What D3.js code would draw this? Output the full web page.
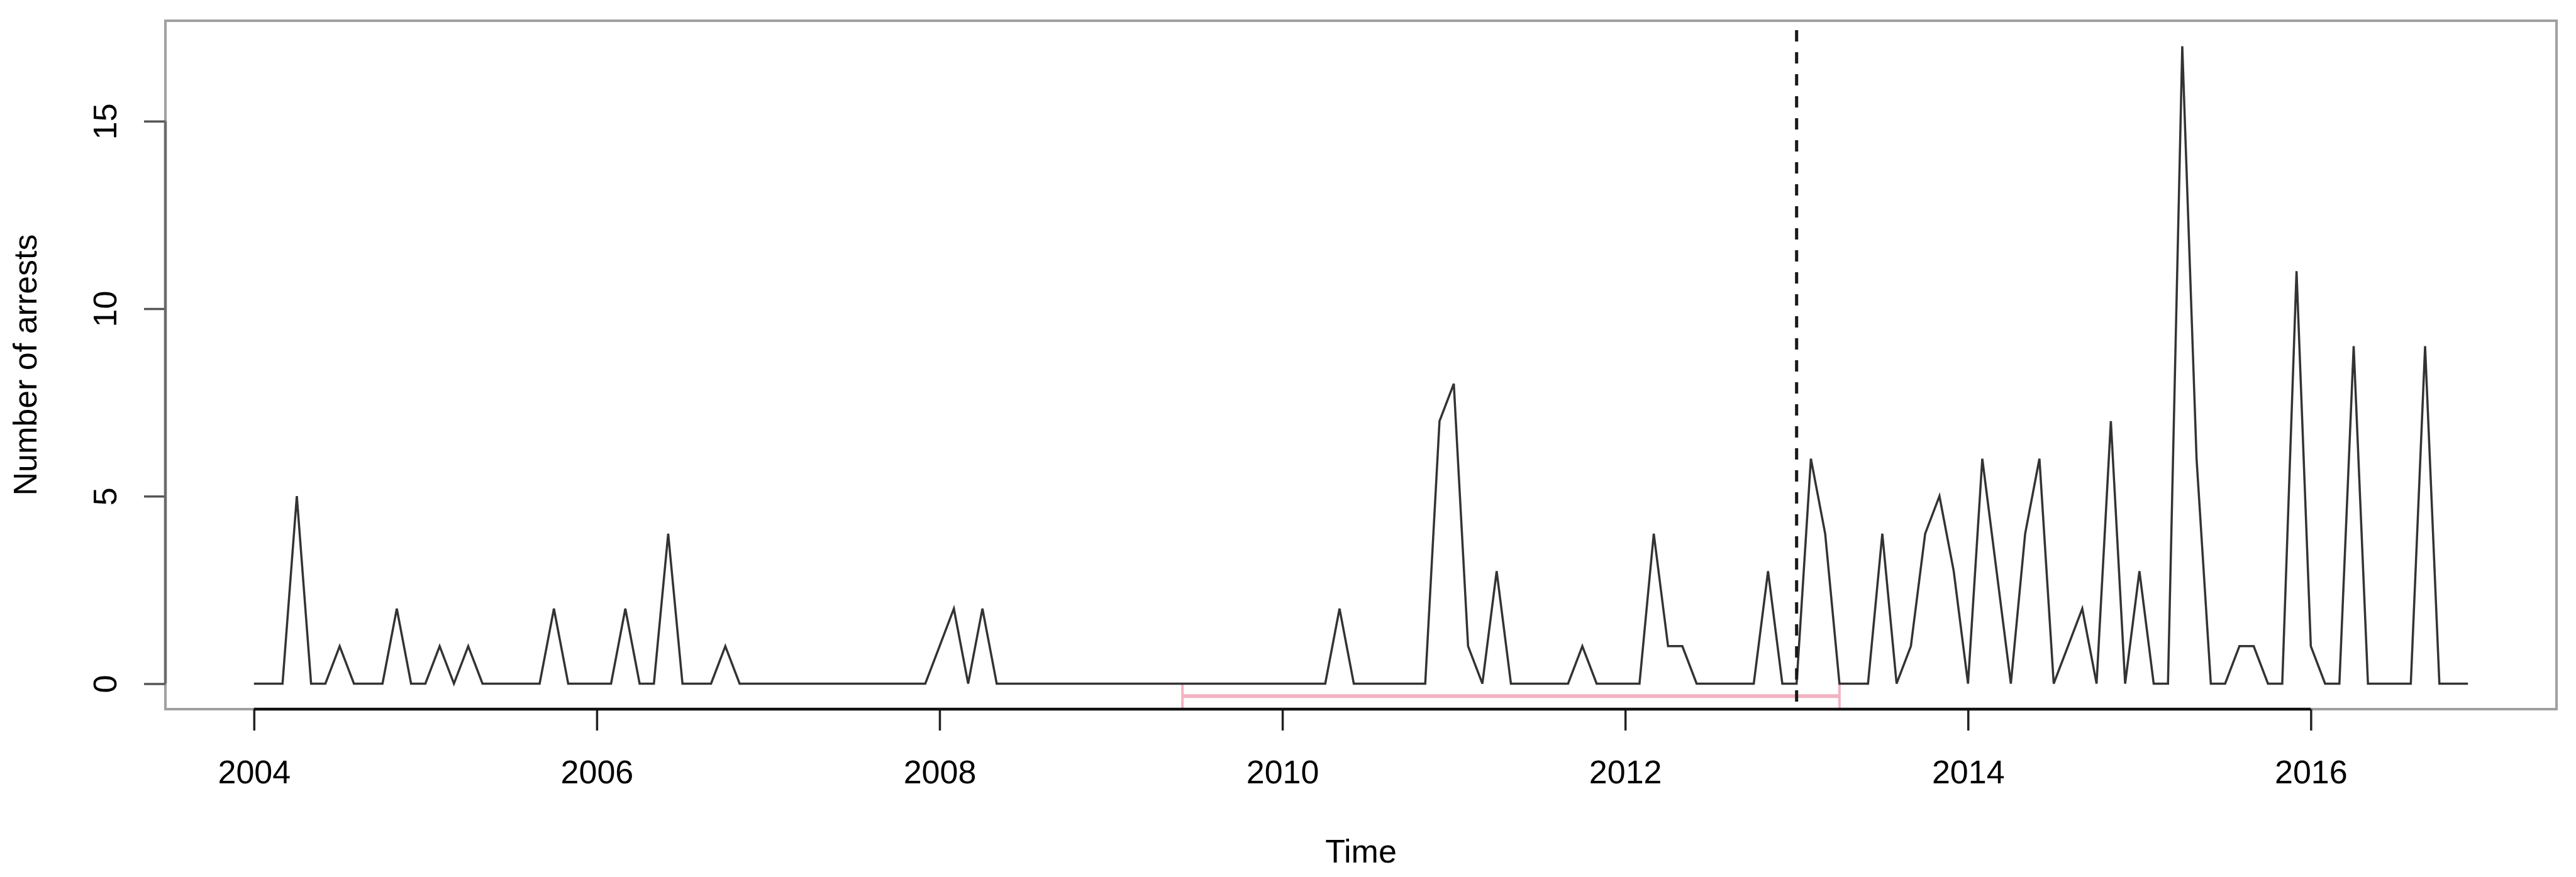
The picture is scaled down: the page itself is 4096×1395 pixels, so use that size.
<!DOCTYPE html>
<html>
<head>
<meta charset="utf-8">
<script src="https://cdn.jsdelivr.net/npm/d3@7"></script>
<style>
  html, body { margin: 0; padding: 0; background: #fff; }
  svg { display: block; }
  text { font-family: "Liberation Sans", Arial, sans-serif; fill: #000; }
</style>
</head>
<body>
<svg id="chart" width="4096" height="1395"></svg>
<script>
// ---- data ----
const startYear = 2004;        // first observation: Jan 2004, monthly series
const monthsPerYear = 12;
const arrests = [
  0,0,0,5,0,0,1,0,0,0,
  2,0,0,1,0,1,0,0,0,0,
  0,2,0,0,0,0,2,0,0,4,
  0,0,0,1,0,0,0,0,0,0,
  0,0,0,0,0,0,0,0,1,2,
  0,2,0,0,0,0,0,0,0,0,
  0,0,0,0,0,0,0,0,0,0,
  0,0,0,0,0,0,2,0,0,0,
  0,0,0,7,8,1,0,3,0,0,
  0,0,0,1,0,0,0,0,4,1,
  1,0,0,0,0,0,3,0,0,6,
  4,0,0,0,4,0,1,4,5,3,
  0,6,3,0,4,6,0,1,2,0,
  7,0,3,0,0,17,6,0,0,1,
  1,0,0,11,1,0,0,9,0,0,
  0,0,9,0,0,0
];
const xTickValues = [2004, 2006, 2008, 2010, 2012, 2014, 2016];
const yTickValues = [0, 5, 10, 15];
const breakYear = [2013];                 // dashed vertical line
const intervalStart = [2009.417];         // pink interval
const intervalEnd = [2013.25];
const intervalLevel = [-0.33];
const xLabel = "Time";
const yLabel = "Number of arrests";

// ---- layout ----
const W = 4096, H = 1395;
const plot = { left: 263, right: 4065, top: 33, bottom: 1128 };
const fontSize = 52;

const series = arrests.map((v, i) => ({ t: startYear + i / monthsPerYear, v }));
const tMin = d3.min(series, d => d.t), tMax = d3.max(series, d => d.t);
const tPad = (tMax - tMin) * 0.04;
const vMax = d3.max(arrests), vMin = 0;
const vPad = (vMax - vMin) * 0.04;

const x = d3.scaleLinear().domain([tMin - tPad, tMax + tPad]).range([plot.left, plot.right]);
const y = d3.scaleLinear().domain([vMin - vPad, vMax + vPad]).range([plot.bottom, plot.top]);

const svg = d3.select("#chart");
svg.append("rect").attr("width", W).attr("height", H).attr("fill", "#fff");

// pink interval
const ig = svg.append("g");
intervalStart.forEach((s, k) => {
  const e = intervalEnd[k], lv = intervalLevel[k];
  ig.append("line")
    .attr("x1", x(s)).attr("x2", x(e)).attr("y1", y(lv)).attr("y2", y(lv))
    .attr("stroke", "#f2b3c2").attr("stroke-width", 6);
  [s, e].forEach(p => {
    ig.append("line")
      .attr("x1", x(p)).attr("x2", x(p))
      .attr("y1", y(lv) - 21).attr("y2", y(lv) + 20)
      .attr("stroke", "#f2b3c2").attr("stroke-width", 4);
  });
});

// data line
const line = d3.line().x(d => x(d.t)).y(d => y(d.v));
svg.append("path")
  .datum(series)
  .attr("d", line)
  .attr("fill", "none")
  .attr("stroke", "#333")
  .attr("stroke-width", 3.5)
  .attr("stroke-linejoin", "miter");

// dashed break line
breakYear.forEach(b => {
  svg.append("line")
    .attr("x1", x(b)).attr("x2", x(b))
    .attr("y1", plot.top).attr("y2", plot.bottom)
    .attr("stroke", "#1a1a1a").attr("stroke-width", 5)
    .attr("stroke-dasharray", "18,17")
    .attr("stroke-dashoffset", 20);
});

// box
svg.append("rect")
  .attr("x", plot.left).attr("y", plot.top)
  .attr("width", plot.right - plot.left).attr("height", plot.bottom - plot.top)
  .attr("fill", "none").attr("stroke", "#a0a0a0").attr("stroke-width", 4);

// x axis
const xAxis = d3.axisBottom(x).tickValues(xTickValues).tickSize(34).tickFormat(d3.format("d"));
const gx = svg.append("g").attr("transform", `translate(0,${plot.bottom})`).call(xAxis);
gx.select(".domain").remove();
gx.selectAll(".tick line").attr("stroke", "#222").attr("stroke-width", 3.5);
gx.selectAll(".tick text")
  .attr("y", 118).attr("dy", null)
  .style("font-size", fontSize + "px")
  .style("font-family", "'Liberation Sans', Arial, sans-serif")
  .attr("fill", "#000");
gx.append("line")
  .attr("x1", x(xTickValues[0])).attr("x2", x(xTickValues[xTickValues.length - 1]))
  .attr("y1", 0).attr("y2", 0)
  .attr("stroke", "#111").attr("stroke-width", 4.5);

// y axis
const yAxis = d3.axisLeft(y).tickValues(yTickValues).tickSize(34).tickFormat(d3.format("d"));
const gy = svg.append("g").attr("transform", `translate(${plot.left},0)`).call(yAxis);
gy.select(".domain").remove();
gy.selectAll(".tick line").attr("stroke", "#555").attr("stroke-width", 3.5);
gy.selectAll(".tick text")
  .attr("x", null).attr("dy", null)
  .attr("transform", "translate(-78,0) rotate(-90)")
  .attr("text-anchor", "middle")
  .style("font-size", fontSize + "px")
  .style("font-family", "'Liberation Sans', Arial, sans-serif")
  .attr("fill", "#000");
gy.append("line")
  .attr("x1", 0).attr("x2", 0)
  .attr("y1", y(yTickValues[0])).attr("y2", y(yTickValues[yTickValues.length - 1]))
  .attr("stroke", "#6a6a6a").attr("stroke-width", 4.5);

// axis titles
svg.append("text")
  .attr("x", (plot.left + plot.right) / 2).attr("y", 1372)
  .attr("text-anchor", "middle")
  .style("font-size", fontSize + "px")
  .text(xLabel);
svg.append("text")
  .attr("transform", `translate(58,${(plot.top + plot.bottom) / 2}) rotate(-90)`)
  .attr("text-anchor", "middle")
  .style("font-size", fontSize + "px")
  .text(yLabel);
</script>
</body>
</html>
